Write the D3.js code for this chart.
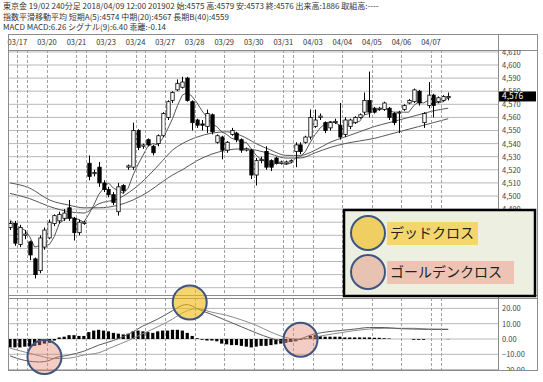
<!DOCTYPE html>
<html>
<head>
<meta charset="utf-8">
<script src="https://cdn.jsdelivr.net/npm/d3@7"></script>
<style>
  body { margin: 0; background: #fff; }
  svg { display: block; font-family: "Noto Sans CJK JP", "Noto Sans", sans-serif; }
</style>
</head>
<body>
<div id="chart"></div>
<script>
// header text
var headerLines = [
  "東京金 19/02 240分足 2018/04/09 12:00 201902 始:4575 高:4579 安:4573 終:4576 出来高:1886 取組高:----",
  "指数平滑移動平均 短期A(5):4574 中期(20):4567 長期B(40):4559",
  "MACD MACD:6.26 シグナル(9):6.40 乖離:-0.14"
];

// day labels and where each day starts (bar index)
var dateLabels = ["03/17", "03/20", "03/21", "03/23", "03/24", "03/27", "03/28", "03/29",
  "03/30", "03/31", "04/03", "04/04", "04/05", "04/06", "04/07"];
var dayBreaks = [1.5, 7.5, 13.5, 19.5, 25.5, 31.5, 37.5, 43.5, 49.5, 55.5, 61.5, 67.5, 73.5, 79.5, 85.5];
var extraBreaks = [3.5, 15.5, 27.5, 57.5, 87.5];

// 240 min candles
var opens  = [4476,4479,4463,4470,4465,4452,4443,4461,4468,4479,4481,4483,4491,4483,4472,4479,4525,4517,4522,4510,
  4505,4501,4488,4508,4522,4522,4550,4538,4543,4538,4540,4546,4560,4573,4581,4583,4590,4572,4558,4555,
  4553,4562,4541,4545,4535,4547,4548,4543,4535,4535,4516,4527,4534,4527,4529,4525,4525,4526,4534,4539,
  4541,4545,4553,4560,4556,4552,4556,4554,4547,4553,4556,4560,4564,4573,4567,4566,4566,4567,4563,4564,
  4566,4571,4572,4580,4556,4569,4577,4572,4573,4575];
var highs  = [4481,4481,4478,4474,4466,4453,4470,4476,4482,4486,4488,4490,4497,4484,4482,4481,4531,4520,4526,4512,
  4507,4503,4510,4509,4524,4556,4551,4540,4544,4539,4547,4564,4573,4580,4589,4591,4591,4573,4559,4558,
  4566,4563,4547,4546,4542,4552,4549,4544,4537,4536,4529,4530,4538,4528,4530,4527,4527,4528,4541,4541,
  4546,4566,4566,4563,4557,4557,4559,4571,4560,4559,4561,4563,4579,4595,4568,4568,4572,4568,4564,4565,
  4570,4574,4582,4581,4564,4587,4578,4576,4577,4579];
var lows   = [4474,4462,4461,4467,4451,4437,4441,4459,4467,4477,4479,4481,4481,4466,4470,4478,4512,4515,4507,4503,
  4499,4493,4485,4502,4520,4520,4535,4536,4538,4531,4538,4545,4558,4571,4580,4582,4572,4550,4552,4550,
  4548,4547,4540,4528,4533,4546,4541,4533,4534,4513,4508,4525,4520,4519,4524,4524,4524,4525,4522,4532,
  4540,4543,4552,4558,4548,4550,4555,4543,4545,4551,4555,4559,4562,4560,4563,4565,4565,4558,4554,4548,
  4565,4570,4571,4569,4552,4567,4560,4571,4572,4573];
var closes = [4479,4464,4476,4471,4455,4440,4468,4474,4480,4485,4486,4487,4483,4472,4480,4480,4515,4518,4510,4505,
  4501,4495,4507,4504,4523,4550,4537,4539,4539,4533,4546,4563,4572,4579,4586,4587,4573,4556,4554,4554,
  4563,4549,4546,4535,4541,4550,4543,4535,4536,4516,4527,4528,4522,4522,4525,4526,4526,4527,4539,4534,
  4545,4560,4558,4561,4550,4556,4557,4545,4558,4558,4560,4562,4573,4564,4564,4567,4571,4560,4556,4564,
  4569,4573,4581,4571,4563,4577,4569,4575,4576,4576];

// moving averages
var ma5 = [4482,4478,4476,4474,4469,4461,4462,4462,4463,4469,4479,4482,4484,4483,4482,4480,4486,4493,4501,4506,
  4510,4506,4504,4502,4506,4516,4524,4531,4538,4540,4539,4544,4551,4559,4569,4577,4579,4576,4571,4565,
  4560,4555,4553,4549,4547,4544,4543,4541,4541,4536,4531,4528,4526,4523,4525,4525,4524,4525,4529,4530,
  4534,4541,4547,4552,4555,4557,4556,4554,4553,4555,4556,4557,4562,4563,4565,4566,4568,4565,4564,4564,
  4564,4564,4569,4572,4571,4573,4572,4571,4572,4575];
var maIdx = [0,4,8,12,15,18,22,25,28,31,33,35,38,41,44,47,50,53,56,59,62,65,68,71,74,77,80,83,86,89];
var ma20 = [4502,4498,4492,4488,4487,4494,4498,4505,4515,4527,4535,4540,4545,4548,4549,4546,4540,4535,4531,4531,
  4535,4541,4545,4549,4553,4556,4559,4562,4565,4567];
var ma40 = [4510,4506,4497,4493,4491,4491,4493,4497,4503,4511,4516,4520,4527,4532,4535,4536,4535,4532,4529,4529,
  4533,4537,4540,4542,4544,4547,4550,4553,4556,4559];

// MACD
var macdIdx = [0,3,6,8,9,12,15,18,21,24,27,30,33,35,36,37,38,39,41,44,47,50,53,56,58,59,61,64,67,70,73,76,79,82,85,89];
var macdLine = [-11,-14,-15,-14,-12.5,-10.5,-8,-4,-1,3,8.5,13,18.5,22,22.5,21.5,20,18.5,16,12,8,4,0.5,-1.5,-1,0,
  2.5,4.5,5.5,6.5,7.5,7.5,6.8,6.5,6.3,6.26];
var signalLine = [-6,-8.5,-11,-12.5,-12.8,-12.5,-10.5,-9,-5,-1,3.5,8,13,17,18.5,19.5,19.8,19.3,17.5,15.5,12.5,9,4.5,1,0,0,
  0.5,2.5,4,5.5,6.5,7,7,7,6.5,6.4];
var histogram = [-5.5,-5.5,-5.5,-5,-5,-4.5,-4,-3,-2.5,-1,1,1.5,2.5,2.5,2,2,4.5,5.5,6,5.5,
  5,4,3.5,3,3.5,5,5.5,5,4.5,4,5,5.5,5.5,6,6,5.5,4,2,0.5,-0.5,
  -1,-1,-1.5,-3,-3.5,-4,-4,-4.5,-5,-5.5,-5,-4.5,-4.5,-4,-3.5,-3,-2.5,-2,-1.5,-0.5,
  0.5,2,2.5,2,1.5,1.5,1.5,1.5,1,1,1,1,1,1,0.8,0.8,0.5,0.3,0,0,
  0,0,-0.5,-0.5,-0.5,0,0,0,0,-0.14];

var priceTicks = [4610,4600,4590,4580,4570,4560,4550,4540,4530,4520,4510,4500,4490,4480,4470,4460,4450,4440,4430];
var macdTicks = [20, 10, 0, -10, -20];
var lastPrice = 4576;

// cross markers (bar index, macd value) and legend
var deadCross = [{i: 36.5, v: 23.9}];
var goldenCross = [{i: 7, v: -11.8}, {i: 59, v: -0.5}];
var legendItems = ["デッドクロス", "ゴールデンクロス"];

var width = 543, height = 382;
var frame = {left: 8, right: 537, top: 34, dateBottom: 50, mainBottom: 295, macdTop: 298, bottom: 370, axisX: 498};

var svg = d3.select("#chart").append("svg")
  .attr("width", width)
  .attr("height", height);

var x = d3.scaleLinear().domain([0, 89]).range([10, 448.2]);
var yP = d3.scaleLinear().domain([4500, 4600]).range([196, 65]);
var yM = d3.scaleLinear().domain([-10, 10]).range([354.3, 323.7]);

var defs = svg.append("defs");
defs.append("clipPath").attr("id", "clipMain").append("rect")
  .attr("x", frame.left).attr("y", frame.dateBottom)
  .attr("width", frame.axisX - frame.left).attr("height", frame.mainBottom - frame.dateBottom);
defs.append("clipPath").attr("id", "clipMacd").append("rect")
  .attr("x", frame.left).attr("y", frame.macdTop)
  .attr("width", frame.axisX - frame.left).attr("height", frame.bottom - frame.macdTop);
defs.append("clipPath").attr("id", "clipAxMain").append("rect")
  .attr("x", frame.axisX).attr("y", frame.dateBottom)
  .attr("width", frame.right - frame.axisX).attr("height", frame.mainBottom - frame.dateBottom);
defs.append("clipPath").attr("id", "clipAxMacd").append("rect")
  .attr("x", frame.axisX).attr("y", frame.macdTop)
  .attr("width", frame.right - frame.axisX).attr("height", frame.bottom - frame.macdTop);

// header
svg.selectAll(".hdr").data(headerLines).enter().append("text")
  .attr("class", "hdr")
  .attr("x", 3)
  .attr("y", (d, i) => 9 + i * 10.5)
  .style("font-size", "8px")
  .style("fill", "#333")
  .text(d => d);

// grids main
var gMain = svg.append("g").attr("clip-path", "url(#clipMain)");
gMain.selectAll(".hgrid").data(priceTicks).enter().append("line")
  .attr("x1", frame.left).attr("x2", frame.axisX)
  .attr("y1", d => yP(d)).attr("y2", d => yP(d))
  .attr("stroke", "#b8b8b8").attr("stroke-width", 1);

var gMacd = svg.append("g").attr("clip-path", "url(#clipMacd)");
gMacd.selectAll(".hgrid").data(macdTicks).enter().append("line")
  .attr("x1", frame.left).attr("x2", frame.axisX)
  .attr("y1", d => yM(d)).attr("y2", d => yM(d))
  .attr("stroke", "#b8b8b8").attr("stroke-width", 1);

// vertical dashed day lines
var allBreaks = dayBreaks.concat(extraBreaks);
[[frame.dateBottom, frame.mainBottom], [frame.macdTop, frame.bottom]].forEach(function (r) {
  svg.append("g").selectAll("line").data(allBreaks).enter().append("line")
    .attr("x1", d => Math.round(x(d)) + 0.5).attr("x2", d => Math.round(x(d)) + 0.5)
    .attr("y1", r[0]).attr("y2", r[1])
    .attr("stroke", "#a0a0a0").attr("stroke-dasharray", "3,2");
});

// date labels
svg.selectAll(".dl").data(dateLabels).enter().append("text")
  .attr("x", (d, i) => x(dayBreaks[i]))
  .attr("y", 45)
  .attr("text-anchor", "middle")
  .style("font-size", "7.5px")
  .style("fill", "#333")
  .text(d => d);

// moving averages
var bars = d3.range(opens.length);
var lineMa5 = d3.line().x((d, i) => x(i)).y(d => yP(d));
gMain.append("path").datum(ma5).attr("d", lineMa5)
  .attr("fill", "none").attr("stroke", "#444").attr("stroke-width", 0.9);
var lineS = d3.line().curve(d3.curveMonotoneX).x(d => x(d[0])).y(d => yP(d[1]));
[ma20, ma40].forEach(function (arr) {
  gMain.append("path").datum(maIdx.map((k, j) => [k, arr[j]])).attr("d", lineS)
    .attr("fill", "none").attr("stroke", "#444").attr("stroke-width", 0.9);
});

// candles
var bw = 3.4;
var candle = gMain.selectAll(".c").data(bars).enter().append("g");
candle.append("line")
  .attr("x1", i => Math.round(x(i)) + 0.5).attr("x2", i => Math.round(x(i)) + 0.5)
  .attr("y1", i => yP(highs[i])).attr("y2", i => yP(lows[i]))
  .attr("stroke", "#000").attr("stroke-width", 1);
candle.append("rect")
  .attr("x", i => Math.round(x(i)) + 0.5 - bw / 2)
  .attr("y", i => yP(Math.max(opens[i], closes[i])))
  .attr("width", bw)
  .attr("height", i => Math.max(1, Math.abs(yP(opens[i]) - yP(closes[i]))))
  .attr("fill", i => closes[i] < opens[i] ? "#000" : "#fff")
  .attr("stroke", "#000").attr("stroke-width", 0.8);

// MACD histogram
gMacd.selectAll(".hb").data(histogram).enter().append("rect")
  .attr("x", (d, i) => x(i) - 1.6)
  .attr("y", d => Math.min(yM(d), yM(0)))
  .attr("width", 3.2)
  .attr("height", d => Math.abs(yM(d) - yM(0)))
  .attr("fill", "#000");

var lineM = d3.line().curve(d3.curveMonotoneX).x(d => x(d[0])).y(d => yM(d[1]));
gMacd.append("path").datum(macdIdx.map((k, j) => [k, signalLine[j]])).attr("d", lineM)
  .attr("fill", "none").attr("stroke", "#8a8a8a").attr("stroke-width", 1);
gMacd.append("path").datum(macdIdx.map((k, j) => [k, macdLine[j]])).attr("d", lineM)
  .attr("fill", "none").attr("stroke", "#5a5a5a").attr("stroke-width", 1);

// frame
var fr = svg.append("g").attr("fill", "none").attr("stroke", "#8c8c8c").attr("stroke-width", 1);
fr.append("rect").attr("x", frame.left + 0.5).attr("y", frame.top + 0.5)
  .attr("width", frame.right - frame.left).attr("height", frame.bottom - frame.top);
[frame.dateBottom, frame.mainBottom, frame.macdTop].forEach(function (yy) {
  fr.append("line").attr("x1", frame.left).attr("x2", frame.right + 0.5)
    .attr("y1", yy + 0.5).attr("y2", yy + 0.5);
});
fr.append("line").attr("x1", frame.axisX + 0.5).attr("x2", frame.axisX + 0.5)
  .attr("y1", frame.top).attr("y2", frame.bottom);

// right axes
var axP = svg.append("g").attr("clip-path", "url(#clipAxMain)").append("g")
  .attr("transform", `translate(${frame.axisX}, 0)`)
  .call(d3.axisRight(yP).tickValues(priceTicks).tickSize(0).tickPadding(4).tickFormat(d3.format(",")));
var axM = svg.append("g").attr("clip-path", "url(#clipAxMacd)").append("g")
  .attr("transform", `translate(${frame.axisX}, 0)`)
  .call(d3.axisRight(yM).tickValues(macdTicks).tickSize(0).tickPadding(4).tickFormat(d3.format(".2f")));
[axP, axM].forEach(function (a) {
  a.select(".domain").remove();
  a.selectAll("text").attr("font-family", "\"Noto Sans CJK JP\", sans-serif")
    .style("font-size", "7.5px").style("fill", "#444");
});

// last price tag
svg.append("rect").attr("x", frame.axisX + 1).attr("y", yP(lastPrice) - 5)
  .attr("width", 37).attr("height", 10).attr("fill", "#000");
svg.append("text").attr("x", frame.axisX + 4).attr("y", yP(lastPrice) + 3)
  .style("font-size", "8.5px").style("fill", "#fff")
  .text(d3.format(",")(lastPrice));

// cross markers
var yellow = {fill: "#f0b70d", op: 0.6};
var pink = {fill: "#e0806a", op: 0.4};
function marker(g, cx, cy, c) {
  g.append("circle").attr("cx", cx).attr("cy", cy).attr("r", 17)
    .attr("fill", c.fill).attr("fill-opacity", c.op)
    .attr("stroke", "#3e5580").attr("stroke-width", 2);
}
deadCross.forEach(d => marker(svg, x(d.i), yM(d.v) + 0, yellow));
goldenCross.forEach(d => marker(svg, x(d.i), yM(d.v), pink));

// legend
var lg = svg.append("g");
lg.append("rect").attr("x", 344).attr("y", 210).attr("width", 191).attr("height", 86)
  .attr("fill", "#edf0e1").attr("stroke", "#000").attr("stroke-width", 2.5);
var lgColors = [{bg: "#f5d66c", c: yellow, w: 91}, {bg: "#efc3b4", c: pink, w: 127}];
legendItems.forEach(function (t, i) {
  var cy = 233 + i * 39;
  lg.append("rect").attr("x", 387).attr("y", cy - 11).attr("width", lgColors[i].w).attr("height", 23)
    .attr("fill", lgColors[i].bg);
  marker(lg, 368, cy, lgColors[i].c);
  lg.append("text").attr("x", 390).attr("y", cy + 5)
    .style("font-size", "14px").style("fill", "#222")
    .text(t);
});
</script>
</body>
</html>
